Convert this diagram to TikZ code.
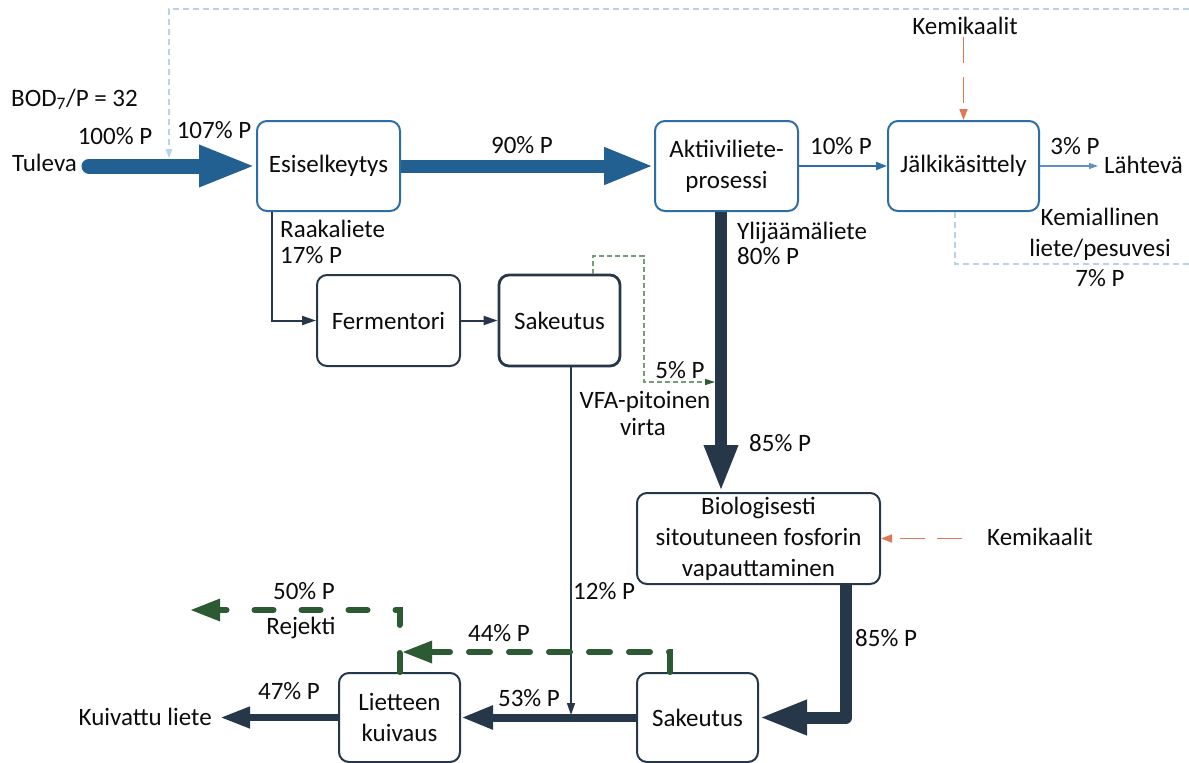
\documentclass[tikz,border=0pt]{standalone}
\usepackage{fontspec}
\setmainfont{Carlito}
\usetikzlibrary{arrows.meta}

\definecolor{flowblue}{RGB}{34,96,145}
\definecolor{boxblue}{RGB}{46,110,165}
\definecolor{navy}{RGB}{38,55,74}
\definecolor{rejgreen}{RGB}{44,90,50}
\definecolor{vfagreen}{RGB}{120,155,120}
\definecolor{chem}{RGB}{222,120,84}
\definecolor{loopblue}{RGB}{184,212,228}
\definecolor{ink}{RGB}{12,12,12}
\newcommand\diagfont{\fontsize{25}{31}\selectfont}

\begin{document}
\begin{tikzpicture}[x=1pt,y=-1pt,
  every node/.style={font=\diagfont, text=ink, inner sep=0pt},
  lbl/.style={text height=15pt, text depth=3pt},
  procbox/.style={rounded corners=10pt, fill=white, align=center, line width=2pt},
  bluebox/.style={procbox, draw=boxblue},
  navybox/.style={procbox, draw=navy},
  bigflow/.style={draw=flowblue, line width=15pt, -{Triangle[length=57pt,width=38pt]}},
  thinflow/.style={draw=boxblue, line width=2pt, -{Triangle[length=11pt,width=8pt]}},
  outflow/.style={draw=boxblue!75, line width=1.2pt, -{Triangle[length=9pt,width=6pt]}},
  sludge/.style={draw=navy, -{Triangle[length=14pt,width=9pt]}, line width=2pt},
  heavy/.style={draw=navy, line join=round},
  loopline/.style={draw=loopblue, line width=1.3pt, dash pattern=on 6pt off 4pt},
  vfaline/.style={draw=vfagreen, line width=1.2pt, dash pattern=on 5pt off 3pt,
    -{Triangle[length=10pt,width=6pt,color=rejgreen]}},
  chemline/.style={draw=chem, line width=1.6pt, -{Triangle[length=11pt,width=8pt]}},
  rejline/.style={draw=rejgreen, line width=6pt, line cap=round,
    -{Triangle[length=30pt,width=21pt]}}
]
\useasboundingbox (0,0) rectangle (1189,763);

% process units
\node[bluebox, minimum width=143pt, minimum height=90pt] (esi) at (328.5,166) {Esiselkeytys};
\node[bluebox, minimum width=143pt, minimum height=90pt] (akt) at (726.5,166) {Aktiiviliete-\\prosessi};
\node[bluebox, minimum width=151pt, minimum height=90pt] (jalki) at (963.5,166) {Jälkikäsittely};
\node[navybox, minimum width=143pt, minimum height=91pt] (ferm) at (388.5,320.5) {Fermentori};
\node[navybox, line width=2.8pt, minimum width=121pt, minimum height=91pt] (sak) at (559.5,320.5) {Sakeutus};
\node[navybox, minimum width=243pt, minimum height=91pt] (bio) at (758.5,538.5) {Biologisesti\\sitoutuneen fosforin\\vapauttaminen};
\node[navybox, minimum width=121pt, minimum height=89pt] (sak2) at (697.5,717.5) {Sakeutus};
\node[navybox, minimum width=121pt, minimum height=89pt] (liet) at (399.5,717.5) {Lietteen\\kuivaus};

% labels
\node[lbl, anchor=west] (bod) at (11,100) {BOD\textsubscript{7}/P = 32};
\node[lbl] (p100) at (115,138) {100\% P};
\node[lbl, anchor=west] (tuleva) at (12,165) {Tuleva};
\node[lbl] (p107) at (214,132) {107\% P};
\node[lbl] (p90) at (522,147) {90\% P};
\node[lbl] (p10) at (841,148) {10\% P};
\node[lbl] (p3) at (1075,148) {3\% P};
\node[lbl, anchor=west] (lahteva) at (1104,167) {Lähtevä};
\node[lbl] (kemtop) at (965,28) {Kemikaalit};
\node[lbl] (kem1) at (1100,219) {Kemiallinen};
\node[lbl] (kem2) at (1100,250) {liete/pesuvesi};
\node[lbl] (kem3) at (1100,280) {7\% P};
\node[lbl, anchor=west] (yli1) at (737,233) {Ylijäämäliete};
\node[lbl, anchor=west] (yli2) at (737,258) {80\% P};
\node[lbl, anchor=west] (raa1) at (280,231) {Raakaliete};
\node[lbl, anchor=west] (raa2) at (280,257) {17\% P};
\node[lbl] (p5) at (680,372) {5\% P};
\node[lbl] (vfa1) at (645,402) {VFA-pitoinen};
\node[lbl] (vfa2) at (643,429) {virta};
\node[lbl, anchor=west] (p12) at (573,593) {12\% P};
\node[lbl, anchor=west] (p85a) at (749,445) {85\% P};
\node[lbl, anchor=west] (kembot) at (987,539) {Kemikaalit};
\node[lbl, anchor=west] (p85b) at (855,640) {85\% P};
\node[lbl] (p53) at (529,700) {53\% P};
\node[lbl] (p47) at (289,693) {47\% P};
\node[lbl, anchor=east] (kuiv) at (212,719) {Kuivattu liete};
\node[lbl] (p50) at (304,593) {50\% P};
\node[lbl] (rej) at (301,628) {Rejekti};
\node[lbl] (p44) at (499,635) {44\% P};

% free ends and bends
\coordinate (inlet) at (89,166);
\coordinate (outlet) at (1098,166);
\coordinate (loopR) at (1189,9);
\coordinate (loopC) at (169,9);
\coordinate (loopE) at (169,157);
\coordinate (sludgeC) at (955,264);
\coordinate (sludgeR) at (1189,264);
\coordinate (rk) at (272,0);
\coordinate (vfaA) at (593,256);
\coordinate (vfaB) at (644,382);
\coordinate (shaftL) at (715,0);
\coordinate (sx) at (721,0);
\coordinate (tx) at (571,715);
\coordinate (bx) at (846,0);
\coordinate (dried) at (220,717.5);
\coordinate (chemB) at (962,538.5);
\coordinate (rc) at (670,652);
\coordinate (rcEnd) at (402,652);
\coordinate (rj) at (399.5,610);
\coordinate (rjEnd) at (190,610);

% recycled chemical sludge / wash water loop
\draw[loopline] (loopR) -- (loopC) -- (loopE);
\draw[loopline] (jalki.south -| sludgeC) -- (sludgeC) -- (sludgeR);
\fill[loopblue] (loopE) ++(0,1) -- ++(-3.5,-9) -- ++(7,0) -- cycle;

% main water line
\draw[bigflow, line cap=round] (inlet) -- (esi.west);
\draw[draw=flowblue, line width=13pt, -{Triangle[length=50pt,width=34pt]}] (esi.east) -- (akt.west);
\draw[thinflow] (akt.east) -- (jalki.west);
\draw[outflow] (jalki.east) -- (outlet);

% chemical dosing
\draw[chemline, dash pattern=on 26pt off 14pt] (kemtop.south -| jalki.north) -- (jalki.north);
\draw[chemline, dash pattern=on 25pt off 12pt] (chemB) -- (bio.east);

% primary sludge to fermentation
\draw[sludge] (esi.south -| rk) |- (ferm.west);
\draw[sludge] (ferm.east) -- (sak.west);
\draw[vfaline] (sak.north -| vfaA) -- (vfaA) -| (vfaB) -- (vfaB -| shaftL);
\draw[draw=navy, line width=1.5pt, -{Triangle[length=12pt,width=8pt]}] (sak.south -| tx) -- (tx);

% excess sludge line
\draw[heavy, line width=12pt, -{Triangle[length=47pt,width=31pt]}] (akt.south -| sx) -- (bio.north -| sx);
\draw[heavy, line width=12pt, -{Triangle[length=48pt,width=32pt]}] (bio.south -| bx) |- (sak2.east);
\draw[heavy, line width=8pt, -{Triangle[length=32pt,width=22pt]}] (sak2.west) -- (liet.east);
\draw[heavy, line width=7pt, -{Triangle[length=30pt,width=20pt]}] (liet.west) -- (dried);

% reject water
\draw[rejline, dash pattern=on 21pt off 19pt] (sak2.north -| rc) -- (rc) -- (rcEnd);
\draw[rejline, dash pattern=on 19pt off 28pt] (liet.north) -- (rj) -- (rjEnd);
\end{tikzpicture}
\end{document}
